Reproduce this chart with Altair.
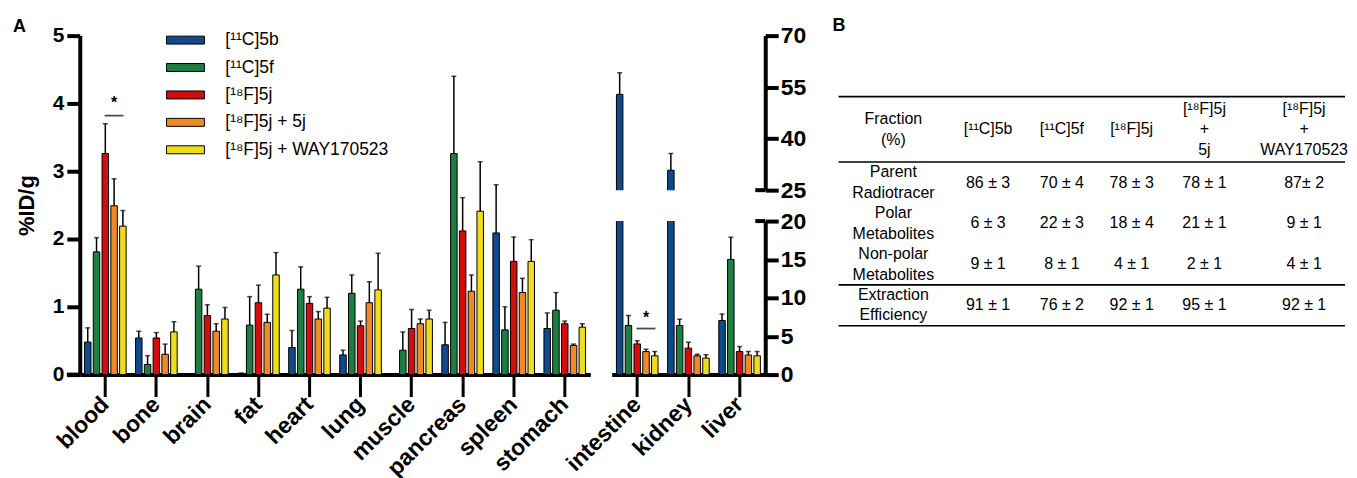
import altair as alt
import pandas as pd

# ---------------- data ----------------
organs_left = ["blood", "bone", "brain", "fat", "heart", "lung", "muscle",
               "pancreas", "spleen", "stomach"]
organs_right = ["intestine", "kidney", "liver"]
organs = organs_left + organs_right

series = ["[¹¹C]5b", "[¹¹C]5f", "[¹⁸F]5j", "[¹⁸F]5j + 5j", "[¹⁸F]5j + WAY170523"]
colors = ["#0f4a8c", "#1d7d42", "#d40c0c", "#f08a24", "#f0dc1e"]

# mean %ID/g per organ (None = not shown)
mean_5b   = [0.48, 0.54, None, 0.02, 0.40, 0.29, None, 0.44, 2.09, 0.68, 52.9, 30.8, 7.05]
err_5b    = [0.21, 0.10, None, 0.00, 0.25, 0.07, None, 0.33, 0.71, 0.23, 6.3, 4.9, 0.85]
mean_5f   = [1.81, 0.15, 1.26, 0.73, 1.26, 1.20, 0.36, 3.26, 0.66, 0.95, 6.4, 6.4, 15.0]
err_5f    = [0.21, 0.13, 0.34, 0.42, 0.33, 0.27, 0.27, 1.14, 0.34, 0.26, 1.3, 0.8, 2.9]
mean_5j   = [3.26, 0.54, 0.87, 1.06, 1.05, 0.72, 0.68, 2.12, 1.67, 0.75, 4.0, 3.45, 3.0]
err_5j    = [0.44, 0.08, 0.16, 0.26, 0.10, 0.07, 0.28, 0.49, 0.36, 0.04, 0.4, 0.75, 0.65]
mean_5j5j = [2.49, 0.30, 0.64, 0.77, 0.82, 1.06, 0.75, 1.23, 1.21, 0.43, 3.0, 2.45, 2.55]
err_5j5j  = [0.40, 0.15, 0.11, 0.12, 0.11, 0.31, 0.07, 0.24, 0.21, 0.02, 0.3, 0.2, 0.45]
mean_way  = [2.19, 0.63, 0.82, 1.47, 0.98, 1.25, 0.82, 2.41, 1.67, 0.70, 2.45, 2.15, 2.45]
err_way   = [0.23, 0.15, 0.17, 0.33, 0.16, 0.54, 0.13, 0.73, 0.32, 0.05, 0.55, 0.45, 0.55]

means = [mean_5b, mean_5f, mean_5j, mean_5j5j, mean_way]
errs = [err_5b, err_5f, err_5j, err_5j5j, err_way]

# significance markers
sig_organ = ["blood", "intestine"]
sig_line = [3.82, 6.0]
sig_star = [4.0, 7.36]
sig_center = "[¹⁸F]5j + 5j"

# table B
tbl_header = ["Fraction\n(%)", "[¹¹C]5b", "[¹¹C]5f", "[¹⁸F]5j",
              "[¹⁸F]5j\n+\n5j", "[¹⁸F]5j\n+\nWAY170523"]
tbl_rows = ["Parent\nRadiotracer", "Polar\nMetabolites", "Non-polar\nMetabolites",
            "Extraction\nEfficiency"]
tbl_5b = ["86 ± 3", "6 ± 3", "9 ± 1", "91 ± 1"]
tbl_5f = ["70 ± 4", "22 ± 3", "8 ± 1", "76 ± 2"]
tbl_5j = ["78 ± 3", "18 ± 4", "4 ± 1", "92 ± 1"]
tbl_5j5j = ["78 ± 1", "21 ± 1", "2 ± 1", "95 ± 1"]
tbl_way = ["87± 2", "9 ± 1", "4 ± 1", "92 ± 1"]

# ---------------- frames ----------------
recs = []
for s, ml, el in zip(series, means, errs):
    for o, m, e in zip(organs, ml, el):
        if m is None:
            continue
        recs.append({"organ": o, "series": s, "mean": m, "top": m + e})
df = pd.DataFrame(recs)
dfL = df[df["organ"].isin(organs_left)]
dfR = df[df["organ"].isin(organs_right)]

sig = pd.DataFrame({"organ": sig_organ, "series": [sig_center] * 2,
                    "line": sig_line, "star": sig_star})
sigL = sig[sig["organ"].isin(organs_left)]
sigR = sig[sig["organ"].isin(organs_right)]
one = pd.DataFrame({"a": [0]})

FONT = "Liberation Sans"
AX = dict(domainColor="black", tickColor="black", labelColor="black",
          titleColor="black", grid=False, labelFont=FONT, titleFont=FONT)

legend = alt.Legend(title=None, orient="none", legendX=96, legendY=-5.5,
                    direction="vertical", symbolType="M-2,-0.42H2V0.42H-2Z",
                    symbolSize=361, symbolStrokeColor="black", symbolStrokeWidth=1,
                    labelFontSize=17.5, labelOffset=30, rowPadding=8.5, labelFont=FONT,
                    labelColor="black", padding=0, labelLimit=400, symbolOpacity=1)
color = alt.Color("series:N", sort=series,
                  scale=alt.Scale(domain=series, range=colors), legend=legend)
xo = alt.XOffset("series:N", sort=series,
                 scale=alt.Scale(domain=series, paddingInner=0.26, paddingOuter=0.13))


def xaxis(show=True):
    if not show:
        return None
    return alt.Axis(title=None, labelAngle=-45, labelAlign="right",
                    labelBaseline="middle", labelFontSize=23, labelFontWeight="bold",
                    tickSize=22, tickWidth=3, domainWidth=4, labelPadding=4, **AX)


def panel(data, sdata, organ_list, ydomain, yvalues, yaxis_extra, width, height,
          show_x=True, clip=False):
    x = alt.X("organ:N", sort=organ_list,
              scale=alt.Scale(domain=organ_list, paddingInner=0.14, paddingOuter=0.07),
              axis=xaxis(show_x))
    yscale = alt.Scale(domain=ydomain, nice=False, zero=False)
    yax = alt.Axis(values=yvalues, format="d", labelFontWeight="bold",
                   tickWidth=4, domainWidth=4, **yaxis_extra, **AX)
    base = alt.Chart(data)
    bars = base.mark_bar(stroke="black", strokeWidth=1, clip=clip).encode(
        x=x, xOffset=xo, y=alt.Y("mean:Q", scale=yscale, axis=yax),
        y2=alt.datum(0), color=color)
    err = base.mark_rule(color="black", strokeWidth=1.5, clip=clip).encode(
        x=x, xOffset=xo, y=alt.Y("mean:Q", scale=yscale, axis=yax), y2="top:Q")
    cap = base.mark_tick(color="black", thickness=1.5, size=5, orient="horizontal",
                         clip=clip).encode(
        x=x, xOffset=xo, y=alt.Y("top:Q", scale=yscale, axis=yax))
    layers = [bars, err, cap]
    if len(sdata):
        sb = alt.Chart(sdata)
        layers.append(sb.mark_tick(color="black", thickness=1.8, size=19,
                                   orient="horizontal").encode(
            x=x, xOffset=xo, y=alt.Y("line:Q", scale=yscale, axis=yax)))
        layers.append(sb.mark_text(text="*", fontSize=16, fontWeight="bold",
                                   font=FONT, baseline="middle", color="black").encode(
            x=x, xOffset=xo, y=alt.Y("star:Q", scale=yscale, axis=yax)))
    return alt.layer(*layers).properties(width=width, height=height)


# left panel
left_y = dict(title="%ID/g", tickSize=13, labelFontSize=21, labelPadding=3,
              titleFontSize=22, titleFontWeight="bold", titlePadding=14)
left = panel(dfL, sigL, organs_left, [0, 5], [0, 1, 2, 3, 4, 5], left_y, 512, 340)
left_ext = alt.Chart(one).mark_rule(color="black", strokeWidth=4).encode(
    x=alt.value(-13), x2=alt.value(0), y=alt.value(340))
left = alt.layer(left, left_ext).properties(
    title=alt.TitleParams("A", anchor="start", frame="group", dx=-67, fontSize=18,
                          fontWeight="bold", font=FONT, offset=-11, color="black"))

right_y = dict(title=None, orient="right", tickSize=13, labelFontSize=23, labelPadding=2)
upper = panel(dfR, sigR.iloc[0:0], organs_right, [25, 70], [25, 40, 55, 70], right_y,
              154, 155, show_x=False, clip=True)
upper_ext = alt.Chart(one).mark_rule(color="black", strokeWidth=4).encode(
    x=alt.value(144), x2=alt.value(154), y=alt.value(155))
upper = alt.layer(upper, upper_ext)
lower = panel(dfR, sigR, organs_right, [0, 20], [0, 5, 10, 15, 20], right_y,
              154, 154, show_x=True, clip=True)
lower_ext = alt.Chart(one).mark_rule(color="black", strokeWidth=4).encode(
    x=alt.value(144), x2=alt.value(154), y=alt.value(0))
lower = alt.layer(lower, lower_ext)
right = alt.vconcat(upper, lower, spacing=31, bounds="flush")

# table panel (the flush layout does not reserve the stacked panel's width,
# so the table area starts right after the left panel and carries a blank lead)
LEAD = 206
TW = LEAD + 508
col_centers = [LEAD + c for c in [55, 150, 224, 294, 367, 467]]
row_heights = [1.6, 1, 1, 1, 1]
TH = 291
Y0 = -1.49
unit_px = TH / (sum(row_heights) - Y0)
line_h = 20.5
bounds_ = [0]
for h in row_heights:
    bounds_.append(bounds_[-1] + h)
row_centers = [(bounds_[i] + bounds_[i + 1]) / 2 for i in range(len(row_heights))]


def cell(xc, yc, t):
    n = t.count("\n") + 1
    return {"x": xc, "y": yc - (n - 1) * line_h / 2 / unit_px, "t": t}


cells = []
for j, t in enumerate(tbl_header):
    cells.append(cell(col_centers[j], row_centers[0], t))
body_cols = [tbl_rows, tbl_5b, tbl_5f, tbl_5j, tbl_5j5j, tbl_way]
for j, col in enumerate(body_cols):
    for i, t in enumerate(col):
        cells.append(cell(col_centers[j], row_centers[i + 1], t))
cells = pd.DataFrame(cells)
lines = pd.DataFrame({"y": [bounds_[0], bounds_[1], bounds_[4], bounds_[5]]})

tx = alt.X("x:Q", scale=alt.Scale(domain=[0, TW], nice=False), axis=None)
tys = alt.Scale(domain=[Y0, bounds_[-1]], nice=False, zero=False, reverse=True)
ttext = alt.Chart(cells).mark_text(fontSize=16, font=FONT, lineBreak="\n",
                                   lineHeight=line_h, baseline="middle", align="center",
                                   color="black").encode(
    x=tx, y=alt.Y("y:Q", scale=tys, axis=None), text="t:N")
trules = alt.Chart(lines).mark_rule(color="black", strokeWidth=1.6).encode(
    y=alt.Y("y:Q", scale=tys, axis=None), x=alt.value(LEAD), x2=alt.value(TW))
table = alt.layer(trules, ttext).properties(
    width=TW, height=TH,
    title=alt.TitleParams("B", anchor="start", frame="group", dx=LEAD - 6, fontSize=18,
                          fontWeight="bold", font=FONT, offset=1, color="black"))

chart = alt.hconcat(left, right, table, spacing=21.5, bounds="flush",
                    padding={"left": 5, "top": 8, "right": 0, "bottom": 0}
                    ).configure(font=FONT).configure_view(stroke=None)

chart.save("out.html", embed_options={"renderer": "svg", "actions": False})
